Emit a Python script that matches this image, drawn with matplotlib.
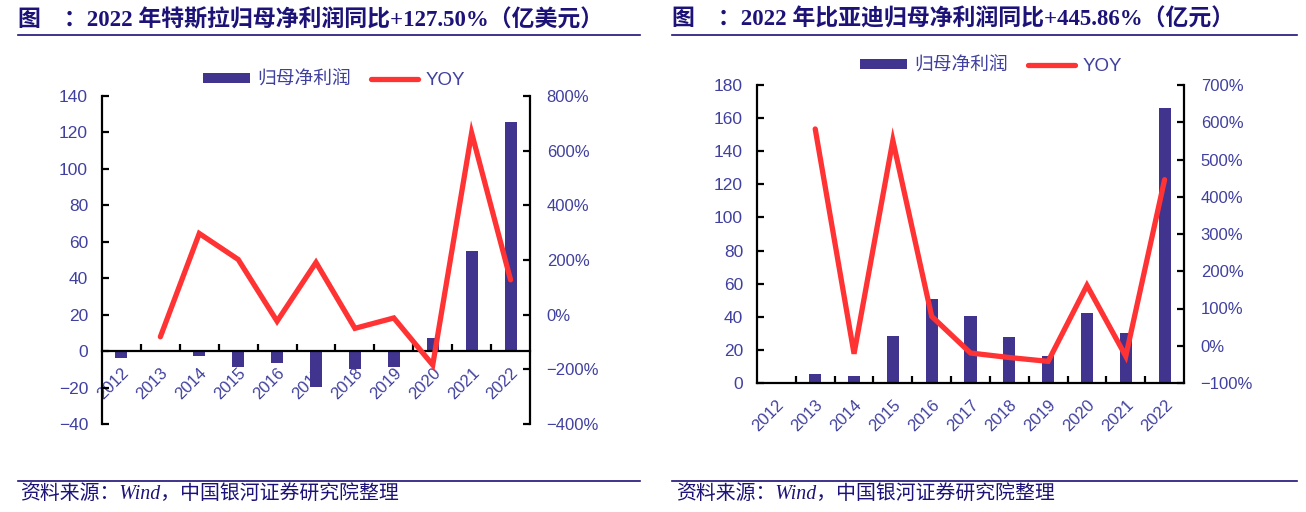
import matplotlib
matplotlib.use("Agg")
import matplotlib.pyplot as plt
import numpy as np
from matplotlib.patches import Patch
from matplotlib.lines import Line2D
from matplotlib.ticker import FixedLocator

years = ["2012", "2013", "2014", "2015", "2016", "2017", "2018", "2019", "2020", "2021", "2022"]

tesla_profit = [-3.96, -0.74, -2.94, -8.89, -6.75, -19.61, -9.76, -8.62, 7.21, 55.19, 125.56]
tesla_yoy = [np.nan, -81, 297, 202, -24, 191, -50, -12, -184, 665, 127.5]

byd_profit = [0.81, 5.53, 4.34, 28.23, 50.52, 40.66, 27.80, 16.14, 42.34, 30.45, 166.22]
byd_yoy = [np.nan, 582, -21.5, 551, 79, -19.5, -31.6, -41.9, 162, -28, 445.86]

title_left = "图    ：2022 年特斯拉归母净利润同比+127.50%（亿美元）"
title_right = "图    ：2022 年比亚迪归母净利润同比+445.86%（亿元）"
source = "资料来源：Wind，中国银河证券研究院整理"
legend_labels = ["归母净利润", "YOY"]

BAR = "#40348F"
RED = "#FF3333"
TICK = "#4040A0"
NAVY = "#1C1278"

W, H = 1306, 512
fig = plt.figure(figsize=(W / 100, H / 100), dpi=100)

num_font = ["Liberation Sans", "Noto Sans CJK SC"]


def fx(px):
    return px / W


def fy(py):
    return 1 - py / H


def pct(v):
    s = f"{abs(v):.0f}%"
    return ("\u2212" + s) if v < 0 else s


def num(v):
    s = f"{abs(v):.0f}"
    return ("\u2212" + s) if v < 0 else s


def make_chart(rect, profit, yoy, ylim, yticks, y2lim, y2ticks, zero_spine, legend_center):
    ax = fig.add_axes(rect)
    x = np.arange(len(years))
    ax.bar(x, profit, width=0.31, color=BAR, zorder=2)
    ax.set_xlim(-0.5, len(years) - 0.5)
    ax.set_ylim(*ylim)
    ax.set_yticks(yticks)
    ax.set_yticklabels([num(v) for v in yticks], family=num_font, fontsize=12.5, color=TICK)
    ax.spines["top"].set_visible(False)
    ax.spines["right"].set_visible(False)
    for s in ["left", "bottom"]:
        ax.spines[s].set_linewidth(1.6)
        ax.spines[s].set_color("black")
    if zero_spine:
        ax.spines["bottom"].set_position(("data", 0))
    ax.set_xticks(x)
    ax.set_xticklabels(years, rotation=45, ha="right", va="top", rotation_mode="anchor",
                       family=num_font, fontsize=12, color=TICK)
    ax.xaxis.set_minor_locator(FixedLocator(np.arange(0.5, len(years) - 0.5, 1.0)))
    ax.tick_params(axis="x", which="major", length=0, pad=10)
    ax.tick_params(axis="x", which="minor", direction="in", length=5, width=1.6)
    ax.tick_params(axis="y", direction="in", length=5, width=1.6, pad=10)

    ax2 = ax.twinx()
    ax2.plot(x, yoy, color=RED, lw=3.8, solid_joinstyle="miter", solid_capstyle="round", zorder=3)
    ax2.set_ylim(*y2lim)
    ax2.set_yticks(y2ticks)
    ax2.set_yticklabels([pct(v) for v in y2ticks], family=num_font, fontsize=12, color=TICK)
    ax2.spines["top"].set_visible(False)
    ax2.spines["left"].set_visible(False)
    ax2.spines["bottom"].set_visible(False)
    ax2.spines["right"].set_linewidth(1.6)
    ax2.tick_params(axis="y", direction="in", length=5, width=1.6, pad=12)

    handles = [Patch(facecolor=BAR, edgecolor="none"), Line2D([0], [0], color=RED, lw=3.8, solid_capstyle="round")]
    leg = fig.legend(handles, legend_labels, loc="center", bbox_to_anchor=legend_center, ncol=2,
                     frameon=False, prop={"family": num_font, "size": 13.5},
                     handlelength=2.5, handleheight=0.45, handletextpad=0.4, columnspacing=1.1)
    for t in leg.get_texts():
        t.set_color(TICK)
    return ax, ax2


# left chart (Tesla)
make_chart([fx(102), fy(424), fx(530) - fx(102), fy(96) - fy(424)],
           tesla_profit, tesla_yoy, (-40, 140), list(range(-40, 141, 20)),
           (-400, 800), list(range(-400, 801, 200)), True, (fx(334), fy(80)))

# right chart (BYD)
make_chart([fx(757), fy(383), fx(1184) - fx(757), fy(85) - fy(383)],
           byd_profit, byd_yoy, (0, 180), list(range(0, 181, 20)),
           (-100, 700), list(range(-100, 701, 100)), False, (fx(991), fy(66)))

title_font = ["Liberation Serif", "Noto Sans CJK SC"]
fig.text(fx(18), fy(20), title_left, family=title_font, weight="bold", fontsize=16.5, color=NAVY, va="center", ha="left")
fig.text(fx(672), fy(20), title_right, family=title_font, weight="bold", fontsize=16.5, color=NAVY, va="center", ha="left")

for (x0, x1) in [(18, 640), (672, 1297)]:
    fig.add_artist(Line2D([fx(x0), fx(x1)], [fy(35), fy(35)], color=NAVY, lw=1.2, transform=fig.transFigure))
    fig.add_artist(Line2D([fx(x0), fx(x1)], [fy(481), fy(481)], color=NAVY, lw=1.2, transform=fig.transFigure))

src_font = ["Liberation Serif", "Noto Sans CJK SC"]
fig.text(fx(20), fy(494), source, family=src_font, style="italic", fontsize=14.3, color=NAVY, va="center", ha="left")
fig.text(fx(676), fy(494), source, family=src_font, style="italic", fontsize=14.3, color=NAVY, va="center", ha="left")

fig.savefig("out.png", dpi=100)
